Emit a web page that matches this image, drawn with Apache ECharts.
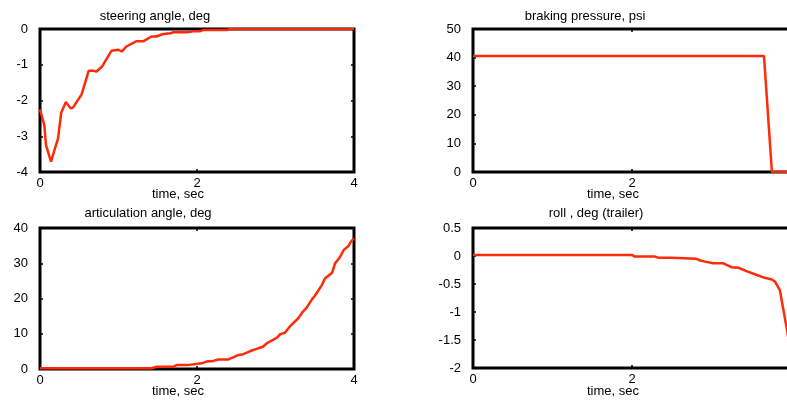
<!DOCTYPE html>
<html><head><meta charset="utf-8">
<script src="https://cdn.jsdelivr.net/npm/echarts@6/dist/echarts.min.js"></script>
<style>html,body{margin:0;padding:0;background:#fff}#c{width:787px;height:403px}</style>
</head><body><div id="c"></div>
<script>
// ---- data ----
const steerT = [0,0.055,0.076,0.14,0.23,0.27,0.33,0.39,0.42,0.53,0.62,0.68,0.72,0.79,0.89,0.91,1.0,1.04,1.10,1.23,1.32,1.42,1.48,1.57,1.66,1.70,1.87,1.95,2.04,2.08,2.38,2.42,4.0];
const steerV = [-2.25,-2.69,-3.24,-3.71,-3.06,-2.34,-2.04,-2.22,-2.2,-1.83,-1.17,-1.17,-1.19,-1.05,-0.68,-0.61,-0.58,-0.63,-0.49,-0.34,-0.34,-0.21,-0.21,-0.14,-0.12,-0.09,-0.09,-0.06,-0.06,-0.03,-0.03,0,0];

const brakeT = [0,3.66,3.76,4.0];
const brakeV = [40.6,40.6,0,0];

const artT = [0,1.42,1.49,1.70,1.74,1.87,1.89,2.06,2.12,2.21,2.27,2.40,2.46,2.53,2.59,2.68,2.76,2.84,2.89,3.02,3.06,3.12,3.18,3.29,3.35,3.40,3.46,3.50,3.55,3.59,3.63,3.72,3.76,3.82,3.87,3.93,3.96,4.0];
const artV = [0.2,0.2,0.65,0.65,1.1,1.1,1.6,1.6,2.1,2.3,2.7,2.7,3.3,4.0,4.2,5.1,5.7,6.3,7.3,8.9,9.9,10.3,12.0,14.4,16.3,17.5,19.6,20.7,22.4,23.8,25.7,27.3,30.0,31.7,33.8,34.9,36.1,37.1];

const rollT = [0,2.0,2.03,2.29,2.33,2.50,2.52,2.81,2.86,2.92,3.02,3.15,3.25,3.34,3.44,3.57,3.67,3.76,3.80,3.86,3.90,3.95,3.97,4.0];
const rollV = [0.02,0.02,-0.01,-0.01,-0.03,-0.03,-0.05,-0.05,-0.08,-0.10,-0.13,-0.13,-0.20,-0.21,-0.27,-0.34,-0.39,-0.42,-0.46,-0.61,-0.93,-1.32,-1.5,-1.8];

const titles = ['steering angle, deg','braking pressure, psi','articulation angle, deg','roll , deg (trailer)'];
const xName = 'time, sec';
const xTicks = {min:0, max:4, interval:2};
const yTicks = [
  {min:-4, max:0, interval:1},
  {min:0, max:50, interval:10},
  {min:0, max:40, interval:10},
  {min:-2, max:0.5, interval:0.5}
];
const seriesT = [steerT, brakeT, artT, rollT];
const seriesV = [steerV, brakeV, artV, rollV];

// ---- layout ----
const FONT = 'Liberation Sans, Arial, sans-serif';
const RED = '#ff2a08';
const grids = [
  {left:40, top:29, width:314, height:143},
  {left:473, top:29, width:318, height:143},
  {left:40, top:228, width:314, height:141},
  {left:473, top:228, width:318, height:140}
];
const titlePos = [[155,16],[585,16],[148,213],[596,213]];
const xNamePos = [[178,194],[613,194],[178,391],[613,391]];

const xAxes = [], yAxes = [], series = [], graphics = [];
grids.forEach((g, i) => {
  const tick = {show:true, inside:true, length:3, lineStyle:{color:'#000', width:1.5}};
  const line = {show:false, onZero:false};
  xAxes.push({type:'value', gridIndex:i, position:'bottom', min:xTicks.min, max:xTicks.max, interval:xTicks.interval,
    axisLine:line, axisTick:tick, splitLine:{show:false},
    axisLabel:{color:'#000', fontSize:13, fontFamily:FONT, margin:5}});
  xAxes.push({type:'value', gridIndex:i, position:'top', min:xTicks.min, max:xTicks.max, interval:xTicks.interval,
    axisLine:line, axisTick:tick, splitLine:{show:false}, axisLabel:{show:false}});
  const yt = yTicks[i];
  yAxes.push({type:'value', gridIndex:i, position:'left', min:yt.min, max:yt.max, interval:yt.interval,
    axisLine:line, axisTick:tick, splitLine:{show:false},
    axisLabel:{color:'#000', fontSize:13, fontFamily:FONT, margin:12}});
  yAxes.push({type:'value', gridIndex:i, position:'right', min:yt.min, max:yt.max, interval:yt.interval,
    axisLine:line, axisTick:tick, splitLine:{show:false}, axisLabel:{show:false}});
  series.push({type:'line', xAxisIndex:2*i, yAxisIndex:2*i, showSymbol:false, animation:false, z:5,
    lineStyle:{color:RED, width:2.5}, data: seriesT[i].map((t,k)=>[t, seriesV[i][k]])});
  graphics.push({type:'text', x:titlePos[i][0], y:titlePos[i][1], style:{text:titles[i], fill:'#000', font:'13px '+FONT, textAlign:'center', textVerticalAlign:'middle'}});
  graphics.push({type:'text', x:xNamePos[i][0], y:xNamePos[i][1], style:{text:xName, fill:'#000', font:'13px '+FONT, textAlign:'center', textVerticalAlign:'middle'}});
});

const chart = echarts.init(document.getElementById('c'), null, {renderer:'canvas'});
chart.setOption({
  animation:false,
  backgroundColor:'#fff',
  grid: grids.map(g => Object.assign({show:true, borderColor:'#000', borderWidth:3, backgroundColor:'transparent', containLabel:false, outerBoundsMode:'none'}, g)),
  xAxis: xAxes,
  yAxis: yAxes,
  series: series,
  graphic: graphics
});
</script></body></html>
